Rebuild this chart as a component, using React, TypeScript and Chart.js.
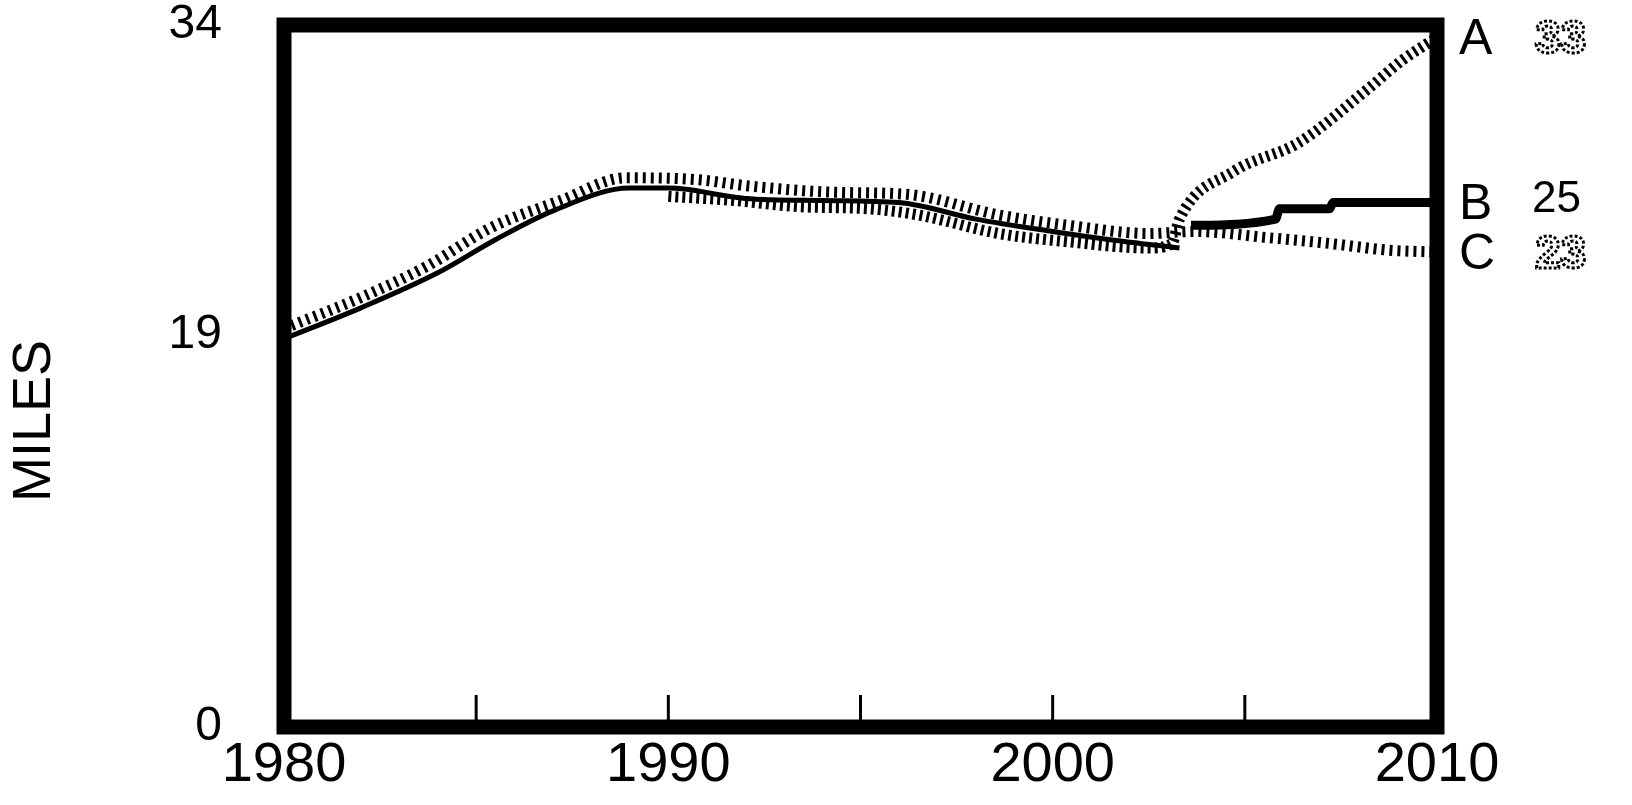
import React, { useEffect, useRef } from "react";
import { Chart, registerables } from "chart.js";

Chart.register(...registerables);

// ---- data ----
const xLabelYears = [1980, 1990, 2000, 2010];
const innerTickYears = [1985, 1990, 1995, 2000, 2005];
const yTickValues = [0, 19, 34];

// Series B (solid line); null marks the break after 2003
const yearsB = [1980, 1982, 1984, 1985.5, 1987, 1989, 1990, 1992, 1994, 1996, 1998, 2000, 2001.5, 2003.3, 2003.45, 2003.6, 2005.8, 2005.9, 2007.2, 2007.3, 2010];
const milesB = [18.8, 20.3, 22.0, 23.6, 25.0, 26.1, 26.1, 25.6, 25.5, 25.4, 24.6, 24.0, 23.6, 23.2, null, 24.3, 24.6, 25.1, 25.1, 25.4, 25.4];

// Series C (upright hatching, whole period)
const yearsC = [1980, 1982, 1983.7, 1985.4, 1987.2, 1988.9, 1990.8, 1992.1, 1994.3, 1996.2, 1998.6, 2000.4, 2002.5, 2003.7, 2005.6, 2007.3, 2008.7, 2010];
const milesC = [19.3, 20.8, 22.3, 24.2, 25.5, 26.6, 26.5, 26.2, 25.9, 25.8, 24.8, 24.3, 23.9, 24.0, 23.7, 23.4, 23.1, 23.0];

// Series A (slanted hatching, from 1990)
const yearsA = [1990, 1991.7, 1993.4, 1995.2, 1996.5, 1998.6, 2000.4, 2002.5, 2003.1, 2003.3, 2004.7, 2006.4, 2008.2, 2009.1, 2010];
const milesA = [25.7, 25.5, 25.2, 25.1, 24.8, 23.9, 23.5, 23.2, 23.4, 24.6, 26.9, 28.3, 30.9, 32.3, 33.4];

const seriesNames = ["A", "B", "C"];
const endValueLabels = ["33", "25", "23"];
const endValueDotted = [true, false, true];

const FONT = '"Liberation Sans", "DejaVu Sans", sans-serif';

function toPoints(xs: number[], ys: (number | null)[]) {
  return xs.map((x, i) => ({ x, y: ys[i] }));
}

const framePlugin = {
  id: "frameAndLabels",
  afterDraw(chart: any) {
    const { ctx, chartArea, scales } = chart;
    const { left, right, top, bottom } = chartArea;
    ctx.save();
    // inward tick marks on the bottom edge
    ctx.strokeStyle = "#000";
    ctx.lineWidth = 3;
    innerTickYears.forEach((yr) => {
      const px = scales.x.getPixelForValue(yr);
      ctx.beginPath();
      ctx.moveTo(px, bottom);
      ctx.lineTo(px, bottom - 32);
      ctx.stroke();
    });
    // heavy frame
    ctx.lineWidth = 15;
    ctx.lineJoin = "miter";
    ctx.strokeRect(left, top, right - left, bottom - top);

    // series end labels
    [0, 1, 2].forEach((i) => {
      const pts = chart.getDatasetMeta(i).data;
      const y = pts[pts.length - 1].y;
      ctx.fillStyle = "#000";
      ctx.textBaseline = "middle";
      ctx.textAlign = "left";
      ctx.font = `50px ${FONT}`;
      ctx.fillText(seriesNames[i], right + 22, y + 3);
      if (endValueDotted[i]) {
        ctx.font = `bold 46px ${FONT}`;
        ctx.setLineDash([3, 2]);
        ctx.lineWidth = 3;
        ctx.strokeStyle = "#000";
        ctx.strokeText(endValueLabels[i], right + 98, y + 3);
        ctx.setLineDash([]);
      } else {
        ctx.font = `44px ${FONT}`;
        ctx.fillText(endValueLabels[i], right + 95, y - 3);
      }
    });

    // axis title
    ctx.translate(35, (top + bottom) / 2 + 45);
    ctx.rotate(-Math.PI / 2);
    ctx.textAlign = "center";
    ctx.textBaseline = "middle";
    ctx.font = `54px ${FONT}`;
    ctx.fillStyle = "#000";
    ctx.fillText("MILES", 0, 0);
    ctx.restore();
  },
};

export default function App() {
  const ref = useRef<HTMLCanvasElement | null>(null);

  useEffect(() => {
    if (!ref.current) return;
    const chart = new Chart(ref.current, {
      type: "line",
      data: {
        datasets: [
          {
            label: seriesNames[0],
            data: toPoints(yearsA, milesA),
            borderColor: "#000",
            borderWidth: 11,
            borderDash: [3, 4],
            borderCapStyle: "butt",
            pointRadius: 0,
            cubicInterpolationMode: "monotone",
            fill: false,
          },
          {
            label: seriesNames[1],
            data: toPoints(yearsB, milesB),
            borderColor: "#000",
            borderWidth: 5,
            pointRadius: 0,
            spanGaps: false,
            cubicInterpolationMode: "monotone",
            segment: {
              borderWidth: (c: any) => (c.p0.parsed.x > 2003.4 ? 9 : 5),
            },
            fill: false,
          },
          {
            label: seriesNames[2],
            data: toPoints(yearsC, milesC),
            borderColor: "#000",
            borderWidth: 11,
            borderDash: [3, 5],
            borderCapStyle: "butt",
            pointRadius: 0,
            cubicInterpolationMode: "monotone",
            fill: false,
          },
        ],
      },
      options: {
        animation: false,
        responsive: true,
        maintainAspectRatio: false,
        layout: { padding: { top: 25, right: 195, left: 0, bottom: 0 } },
        plugins: {
          legend: { display: false },
          tooltip: { enabled: false },
        },
        scales: {
          x: {
            type: "linear",
            min: 1980,
            max: 2010,
            grid: { display: false, drawTicks: false },
            border: { display: false },
            afterBuildTicks: (s: any) => {
              s.ticks = xLabelYears.map((v) => ({ value: v }));
            },
            afterFit: (s: any) => {
              s.height = 78;
            },
            ticks: {
              color: "#000",
              padding: 5,
              maxRotation: 0,
              autoSkip: false,
              font: { family: FONT, size: 56 },
              callback: (v: any) => String(v),
            },
          },
          y: {
            min: 0,
            max: 34,
            grid: { display: false, drawTicks: true, tickLength: 62 },
            border: { display: false },
            afterBuildTicks: (s: any) => {
              s.ticks = yTickValues.map((v) => ({ value: v }));
            },
            afterFit: (s: any) => {
              s.width = 284;
            },
            ticks: {
              color: "#000",
              padding: 0,
              autoSkip: false,
              font: { family: FONT, size: 48, lineHeight: 0.6 },
              callback: (v: any) => String(v),
            },
          },
        },
      },
      plugins: [framePlugin],
    });
    return () => chart.destroy();
  }, []);

  return (
    <div style={{ position: "fixed", left: 0, top: 0, width: 1632, height: 805, background: "#fff" }}>
      <canvas ref={ref} />
    </div>
  );
}
